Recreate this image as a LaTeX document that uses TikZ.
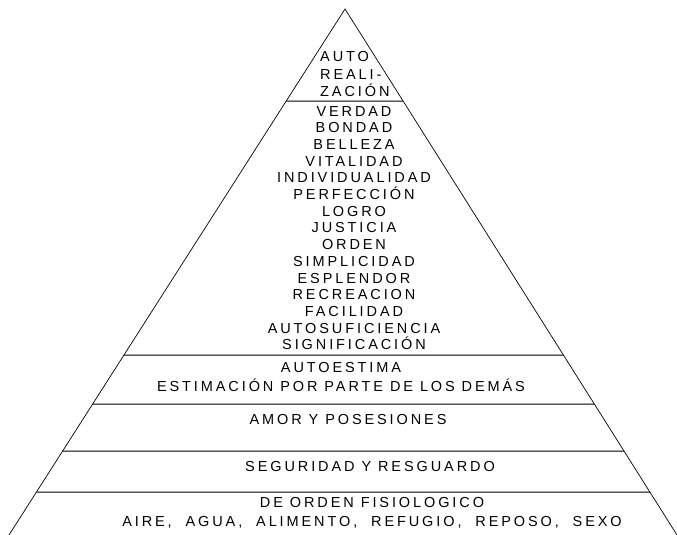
\documentclass[tikz,border=0pt]{standalone}
\usepackage{fontspec}
\newfontfamily\pyrfont{Liberation Sans}[LetterSpace=20]
\usetikzlibrary{calc}
\def\tam{14.5}
\tikzset{
    level line/.style = {line width=1pt, draw=black},
    side line/.style = {line width=0.7pt, draw=black},
    level text/.style = {font=\pyrfont\fontsize{\tam}{16.7}\selectfont, align=center, inner sep=0pt}
}

\begin{document}
\begin{tikzpicture}[x=1pt, y=-1pt]
        \useasboundingbox[fill=white] (0,0) rectangle (677,535);

        % specify special coordinates
        \coordinate (apex) at (345,9);
        \coordinate (baseL) at (9,535);
        \coordinate (baseR) at (677,535);

        % draw sides of the pyramid
        \draw[side line] (baseL) -- (apex) -- (baseR);

        % draw level lines
        \foreach \y in {101,355,404,451,492}
            \draw[level line] (intersection of apex--baseL and 0,\y--1,\y) -- (intersection of apex--baseR and 0,\y--1,\y);

        % top level
        \node[level text, align=left, anchor=west, font=\pyrfont\fontsize{\tam}{17.5}\selectfont] (auto) at (320,74.5) {AUTO\\REALI-\\ZACIÓN};

        % values
        \node[level text] (valores) at (354,228) {VERDAD\\BONDAD\\BELLEZA\\VITALIDAD\\INDIVIDUALIDAD\\PERFECCIÓN\\LOGRO\\JUSTICIA\\ORDEN\\SIMPLICIDAD\\ESPLENDOR\\RECREACION\\FACILIDAD\\AUTOSUFICIENCIA\\SIGNIFICACIÓN};

        % lower levels
        \node[level text, font=\pyrfont\fontsize{\tam}{19}\selectfont] (estima) at (341,377.5) {AUTOESTIMA\\ESTIMACIÓN POR PARTE DE LOS DEMÁS};
        \node[level text] (amor) at (348,420) {AMOR Y POSESIONES};
        \node[level text] (seguridad) at (370,467) {SEGURIDAD Y RESGUARDO};
        \node[level text, font=\pyrfont\fontsize{\tam}{19}\selectfont] (fisio) at (372,512.5) {DE ORDEN FISIOLOGICO\\AIRE,\ \ AGUA,\ \ ALIMENTO,\ \ REFUGIO,\ \ REPOSO,\ \ SEXO};
    \end{tikzpicture}
\end{document}
